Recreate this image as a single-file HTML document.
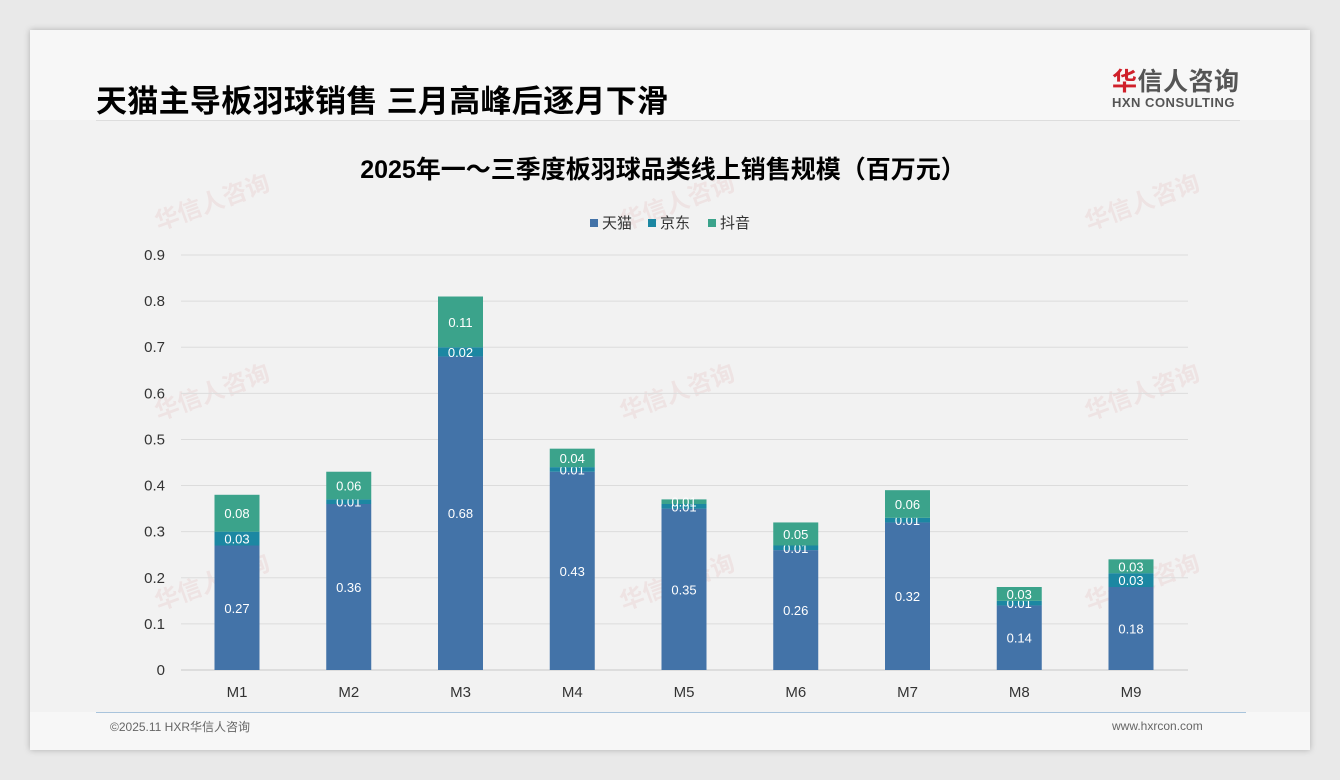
<!DOCTYPE html>
<html><head><meta charset="utf-8">
<style>
html,body{margin:0;padding:0;width:1340px;height:780px;background:#e9e9e9;overflow:hidden;font-family:"Liberation Sans","Noto Sans CJK SC",sans-serif;}
#card{position:absolute;left:30px;top:30px;width:1280px;height:720px;background:#f7f7f7;box-shadow:0 0 6px rgba(0,0,0,0.25);}
#plotbg{position:absolute;left:0;top:90px;width:1280px;height:592px;background:#f2f2f2;}
#title{position:absolute;left:66px;top:46px;font-size:31px;font-weight:bold;color:#000;font-family:"Liberation Sans","Noto Sans CJK SC",sans-serif;letter-spacing:0.3px;}
#hline{position:absolute;left:66px;top:90px;width:1144px;height:1px;background:#ddd;}
#logo1{position:absolute;left:1082px;top:32px;font-size:25px;font-weight:bold;color:#555;letter-spacing:0.5px;}
#logo1 span{color:#d0202a;}
#logo2{position:absolute;left:1082px;top:65px;font-size:13px;font-weight:bold;color:#555;letter-spacing:0.5px;}
#fline{position:absolute;left:66px;top:682px;width:1150px;height:1px;background:#a9c4dc;}
#fl{position:absolute;left:80px;top:688px;font-size:12px;color:#666;}
#fr{position:absolute;left:1082px;top:689px;font-size:12px;color:#666;}
svg{position:absolute;left:0;top:0;}
</style></head><body>
<div id="card">
<div id="plotbg"></div>
<div id="title">天猫主导板羽球销售 三月高峰后逐月下滑</div>
<div id="hline"></div>
<div id="logo1"><span>华</span>信人咨询</div>
<div id="logo2">HXN CONSULTING</div>
<div id="fline"></div>
<div id="fl">©2025.11 HXR华信人咨询</div>
<div id="fr">www.hxrcon.com</div>
</div>
<svg id="chart" width="1340" height="780"></svg>
<script>
const categories=["M1","M2","M3","M4","M5","M6","M7","M8","M9"];
const tmall=[0.27,0.36,0.68,0.43,0.35,0.26,0.32,0.14,0.18];
const jd=[0.03,0.01,0.02,0.01,0.01,0.01,0.01,0.01,0.03];
const douyin=[0.08,0.06,0.11,0.04,0.01,0.05,0.06,0.03,0.03];
const yTicks=[0,0.1,0.2,0.3,0.4,0.5,0.6,0.7,0.8,0.9];
const seriesNames=["天猫","京东","抖音"];
const colors=["#4373a8","#1c87a2","#3ba38b"];
const svg=document.getElementById('chart');
const NS='http://www.w3.org/2000/svg';
function mk(t,a,txt){const e=document.createElementNS(NS,t);for(const k in a)e.setAttribute(k,a[k]);if(txt!==undefined)e.textContent=txt;svg.appendChild(e);return e;}
const y0=670,pxPer=461.1;
function y(v){return y0-v*pxPer;}
function x(i){return 237+i*111.75;}
const F='"Liberation Sans","Noto Sans CJK SC",sans-serif';
[[215,210],[680,210],[1145,210],[215,400],[680,400],[1145,400],[215,590],[680,590],[1145,590]].forEach(p=>{
 let g=mk('text',{x:p[0],y:p[1],'font-size':24,'font-weight':'bold',fill:'rgba(210,120,120,0.12)','text-anchor':'middle','font-family':F,transform:`rotate(-20 ${p[0]} ${p[1]})`},'华信人咨询');
 
 
});
let ct=mk('text',{x:663,y:178,'font-size':25,'font-weight':'bold',fill:'#000','text-anchor':'middle','font-family':F},'2025年一～三季度板羽球品类线上销售规模（百万元）');


const lx=[590,648,708];
seriesNames.forEach((n,i)=>{
 let r=mk('rect',{x:lx[i],y:219,width:8,height:8,fill:colors[i]});
 
 
 let t=mk('text',{x:lx[i]+12,y:228,'font-size':15,fill:'#333','font-family':F},n);
 
 
});
yTicks.forEach(v=>{
 let l=mk('line',{x1:181,x2:1188,y1:y(v),y2:y(v),stroke:v===0?'#c8c8c8':'#dcdcdc','stroke-width':1});
 
 
 let t=mk('text',{x:165,y:y(v)+5,'font-size':15,fill:'#333','text-anchor':'end','font-family':F},String(v));
 
 
});
const series=[tmall,jd,douyin];
categories.forEach((c,i)=>{
 let base=0;
 series.forEach((s,k)=>{
  const v=s[i];
  let r=mk('rect',{x:x(i)-22.5,y:y(base+v),width:45,height:v*pxPer,fill:colors[k]});
  
  
  let t=mk('text',{x:x(i),y:y(base+v/2)+5,'font-size':13,fill:'#fff','text-anchor':'middle','font-family':F},v.toFixed(2));
  
  
  base+=v;
 });
 let t=mk('text',{x:x(i),y:697,'font-size':15,fill:'#333','text-anchor':'middle','font-family':F},c);
 
 
});
</script>
</body></html>
